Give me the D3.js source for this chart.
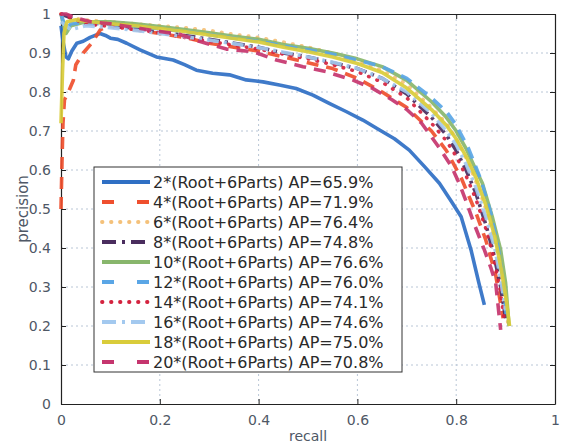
<!DOCTYPE html>
<html><head><meta charset="utf-8">
<script src="https://cdn.jsdelivr.net/npm/d3@7"></script>
<style>body{margin:0;background:#fff}svg{display:block}</style>
</head><body>
<script>
// ---- data (recall, precision) ----
const labels = ["2*(Root+6Parts)","4*(Root+6Parts)","6*(Root+6Parts)","8*(Root+6Parts)","10*(Root+6Parts)",
                "12*(Root+6Parts)","14*(Root+6Parts)","16*(Root+6Parts)","18*(Root+6Parts)","20*(Root+6Parts)"];
const apValues = ["65.9","71.9","76.4","74.8","76.6","76.0","74.1","74.6","75.0","70.8"];
const xTicks = [0,0.2,0.4,0.6,0.8,1];
const yTicks = [0,0.1,0.2,0.3,0.4,0.5,0.6,0.7,0.8,0.9,1];

const pr2 = [[0,0.97],[0.004,0.93],[0.01,0.89],[0.015,0.885],[0.022,0.905],[0.032,0.925],[0.045,0.93],[0.059,0.94],[0.079,0.95],[0.09,0.945],[0.10,0.938],[0.115,0.935],[0.133,0.925],[0.16,0.908],[0.193,0.89],[0.227,0.882],[0.25,0.87],[0.274,0.856],[0.307,0.848],[0.341,0.844],[0.375,0.831],[0.409,0.826],[0.442,0.818],[0.476,0.809],[0.51,0.792],[0.543,0.771],[0.577,0.75],[0.611,0.728],[0.644,0.703],[0.675,0.68],[0.705,0.651],[0.735,0.61],[0.766,0.566],[0.79,0.52],[0.81,0.48],[0.83,0.395],[0.846,0.31],[0.857,0.254]];
const pr4 = [[0,0.5],[0.002,0.62],[0.004,0.72],[0.007,0.78],[0.015,0.8],[0.025,0.83],[0.03,0.87],[0.045,0.9],[0.062,0.925],[0.08,0.96],[0.1,0.97],[0.15,0.96],[0.2,0.95],[0.25,0.94],[0.3,0.925],[0.35,0.915],[0.4,0.905],[0.45,0.89],[0.5,0.875],[0.55,0.86],[0.6,0.835],[0.65,0.8],[0.7,0.76],[0.75,0.7],[0.78,0.65],[0.81,0.58],[0.84,0.49],[0.86,0.42],[0.88,0.33],[0.895,0.22]];
const pr6 = [[0,1.0],[0.02,0.99],[0.05,0.985],[0.1,0.98],[0.15,0.975],[0.2,0.97],[0.25,0.965],[0.3,0.958],[0.35,0.948],[0.4,0.94],[0.45,0.928],[0.5,0.915],[0.55,0.9],[0.6,0.88],[0.65,0.855],[0.7,0.82],[0.75,0.76],[0.78,0.72],[0.8,0.68],[0.82,0.63],[0.84,0.57],[0.86,0.5],[0.875,0.43],[0.89,0.35],[0.9,0.27],[0.905,0.2]];
const pr8 = [[0,1.0],[0.02,0.99],[0.05,0.975],[0.1,0.97],[0.15,0.963],[0.2,0.955],[0.25,0.945],[0.3,0.935],[0.35,0.925],[0.4,0.915],[0.45,0.9],[0.5,0.89],[0.55,0.875],[0.6,0.86],[0.65,0.835],[0.7,0.795],[0.75,0.735],[0.78,0.69],[0.8,0.65],[0.82,0.6],[0.84,0.54],[0.86,0.46],[0.875,0.39],[0.89,0.3],[0.9,0.22]];
const pr10 = [[0,1.0],[0.01,0.95],[0.02,0.97],[0.05,0.98],[0.1,0.98],[0.15,0.975],[0.2,0.968],[0.25,0.96],[0.3,0.952],[0.35,0.943],[0.4,0.935],[0.45,0.922],[0.5,0.912],[0.55,0.9],[0.6,0.885],[0.65,0.865],[0.7,0.83],[0.75,0.775],[0.78,0.735],[0.8,0.7],[0.82,0.655],[0.84,0.6],[0.853,0.566],[0.873,0.48],[0.89,0.395],[0.9,0.31],[0.907,0.2]];
const pr12 = [[0,1.0],[0.01,0.96],[0.02,0.975],[0.05,0.978],[0.1,0.973],[0.15,0.968],[0.2,0.962],[0.25,0.955],[0.3,0.947],[0.35,0.938],[0.4,0.93],[0.45,0.918],[0.5,0.908],[0.55,0.897],[0.6,0.882],[0.65,0.865],[0.7,0.835],[0.75,0.785],[0.78,0.75],[0.8,0.715],[0.825,0.655],[0.85,0.575],[0.87,0.49],[0.885,0.4],[0.895,0.31],[0.902,0.22]];
const pr14 = [[0,1.0],[0.02,0.99],[0.05,0.975],[0.1,0.968],[0.15,0.96],[0.2,0.952],[0.25,0.94],[0.3,0.93],[0.35,0.92],[0.4,0.91],[0.45,0.897],[0.5,0.885],[0.55,0.87],[0.6,0.852],[0.65,0.825],[0.7,0.785],[0.75,0.72],[0.78,0.675],[0.8,0.635],[0.82,0.585],[0.84,0.525],[0.86,0.45],[0.875,0.38],[0.888,0.3],[0.897,0.22]];
const pr16 = [[0,0.98],[0.02,0.96],[0.05,0.97],[0.1,0.965],[0.15,0.958],[0.2,0.95],[0.25,0.942],[0.3,0.933],[0.35,0.924],[0.4,0.914],[0.45,0.902],[0.5,0.89],[0.55,0.876],[0.6,0.86],[0.65,0.835],[0.7,0.8],[0.75,0.745],[0.78,0.7],[0.8,0.665],[0.82,0.615],[0.84,0.555],[0.86,0.48],[0.878,0.4],[0.89,0.32],[0.9,0.24]];
const pr18 = [[0,0.72],[0.003,0.85],[0.006,0.95],[0.012,0.98],[0.03,0.985],[0.06,0.98],[0.1,0.975],[0.15,0.97],[0.2,0.963],[0.25,0.955],[0.3,0.946],[0.35,0.937],[0.4,0.928],[0.45,0.915],[0.5,0.903],[0.55,0.89],[0.6,0.873],[0.65,0.85],[0.7,0.81],[0.75,0.755],[0.78,0.715],[0.8,0.68],[0.82,0.635],[0.84,0.58],[0.86,0.51],[0.878,0.43],[0.892,0.34],[0.902,0.26],[0.908,0.2]];
const pr20 = [[0,1.0],[0.01,1.0],[0.03,0.99],[0.06,0.98],[0.1,0.975],[0.15,0.965],[0.2,0.955],[0.24,0.948],[0.28,0.93],[0.335,0.91],[0.39,0.903],[0.436,0.882],[0.49,0.865],[0.537,0.852],[0.59,0.831],[0.63,0.81],[0.67,0.78],[0.7,0.755],[0.73,0.72],[0.769,0.651],[0.79,0.61],[0.806,0.566],[0.82,0.52],[0.836,0.463],[0.857,0.395],[0.87,0.35],[0.88,0.31],[0.885,0.25],[0.89,0.19]];

const seriesData = [pr2,pr4,pr6,pr8,pr10,pr12,pr14,pr16,pr18,pr20];
const colors = ["#2f6fc4","#ef4f2e","#f4c17a","#4a2d5e","#88b66c","#5aa6e6","#d4233f","#a3c9ef","#d9cc3a","#c5356e"];
const styles = ["-","--",":","-.","-","--",":","-.","-","--"];

// ---- layout ----
const W = 563, H = 447;
const m = {left:61, right:555, top:14, bottom:404};
const svg = d3.select("body").append("svg").attr("width",W).attr("height",H)
  .style("font-family","'DejaVu Sans', sans-serif");

const x = d3.scaleLinear().domain([0,1]).range([m.left,m.right]);
const y = d3.scaleLinear().domain([0,1]).range([m.bottom,m.top]);

// grid
const grid = svg.append("g").attr("stroke","#b9c6d6").attr("stroke-width",1).attr("stroke-dasharray","2,3");
grid.selectAll(".gx").data(xTicks.slice(1,-1)).join("line")
  .attr("x1",d=>x(d)).attr("x2",d=>x(d)).attr("y1",m.top).attr("y2",m.bottom);
grid.selectAll(".gy").data(yTicks.slice(1,-1)).join("line")
  .attr("y1",d=>y(d)).attr("y2",d=>y(d)).attr("x1",m.left).attr("x2",m.right);

// axes
const fmt = d => d===0 ? "0" : d===1 ? "1" : d3.format(".1f")(d);
const xAxis = svg.append("g").attr("transform",`translate(0,${m.bottom})`)
  .call(d3.axisBottom(x).tickValues(xTicks).tickFormat(fmt).tickSizeInner(-5).tickSizeOuter(0).tickPadding(9));
const xAxisT = svg.append("g").attr("transform",`translate(0,${m.top})`)
  .call(d3.axisTop(x).tickValues(xTicks).tickFormat("").tickSizeInner(-5).tickSizeOuter(0));
const yAxis = svg.append("g").attr("transform",`translate(${m.left},0)`)
  .call(d3.axisLeft(y).tickValues(yTicks).tickFormat(fmt).tickSizeInner(-5).tickSizeOuter(0).tickPadding(10));
const yAxisR = svg.append("g").attr("transform",`translate(${m.right},0)`)
  .call(d3.axisRight(y).tickValues(yTicks).tickFormat("").tickSizeInner(-5).tickSizeOuter(0));
[xAxis,xAxisT,yAxis,yAxisR].forEach(g=>{
  g.select(".domain").attr("stroke","#222").attr("stroke-width",1.2);
  g.selectAll(".tick line").attr("stroke","#222");
  g.selectAll("text").attr("fill","#4f5866").style("font-size","14px").style("font-family","'DejaVu Sans', sans-serif");
});
xAxis.selectAll("text").attr("dy","0.85em");

// curves
const line = d3.line().x(d=>x(d[0])).y(d=>y(d[1]));
function applyStyle(sel, st, legend){
  sel.attr("stroke-linecap", st===":" ? "round" : "butt");
  if (st==="--") sel.attr("stroke-dasharray", legend ? "12,23" : "12,8");
  else if (st===":") sel.attr("stroke-dasharray","0.5,8.5");
  else if (st==="-.") sel.attr("stroke-dasharray", legend ? "14,6,3,6" : "12,5,3,5");
}
const curves = svg.append("g");
seriesData.forEach((data,i)=>{
  const p = curves.append("path").datum(data).attr("d",line)
    .attr("fill","none").attr("stroke",colors[i]).attr("stroke-width",3.6)
    .attr("stroke-linejoin","round").attr("opacity",0.92);
  applyStyle(p, styles[i], false);
});

// legend
const lg = svg.append("g");
lg.append("rect").attr("x",94).attr("y",167).attr("width",308).attr("height",205)
  .attr("fill","#fff").attr("stroke","#333").attr("stroke-width",1);
labels.forEach((lab,i)=>{
  const cy = 182 + i*20;
  const l = lg.append("line").attr("x1",102).attr("x2",150).attr("y1",cy).attr("y2",cy)
    .attr("stroke",colors[i]).attr("stroke-width",3.8);
  applyStyle(l, styles[i], true);
  lg.append("text").attr("x",153).attr("y",cy).attr("dy","0.36em")
    .attr("fill","#2a2a2a").style("font-size","16px")
    .text(`${lab} AP=${apValues[i]}%`);
});

// axis labels
svg.append("text").attr("x",(m.left+m.right)/2).attr("y",441)
  .attr("text-anchor","middle").attr("fill","#4f5866").style("font-size","14px").text("recall");
svg.append("text").attr("transform","translate(23,209) rotate(-90)").attr("dy","0.35em")
  .attr("text-anchor","middle").attr("fill","#4f5866").style("font-size","15px").text("precision");
</script>
</body></html>
